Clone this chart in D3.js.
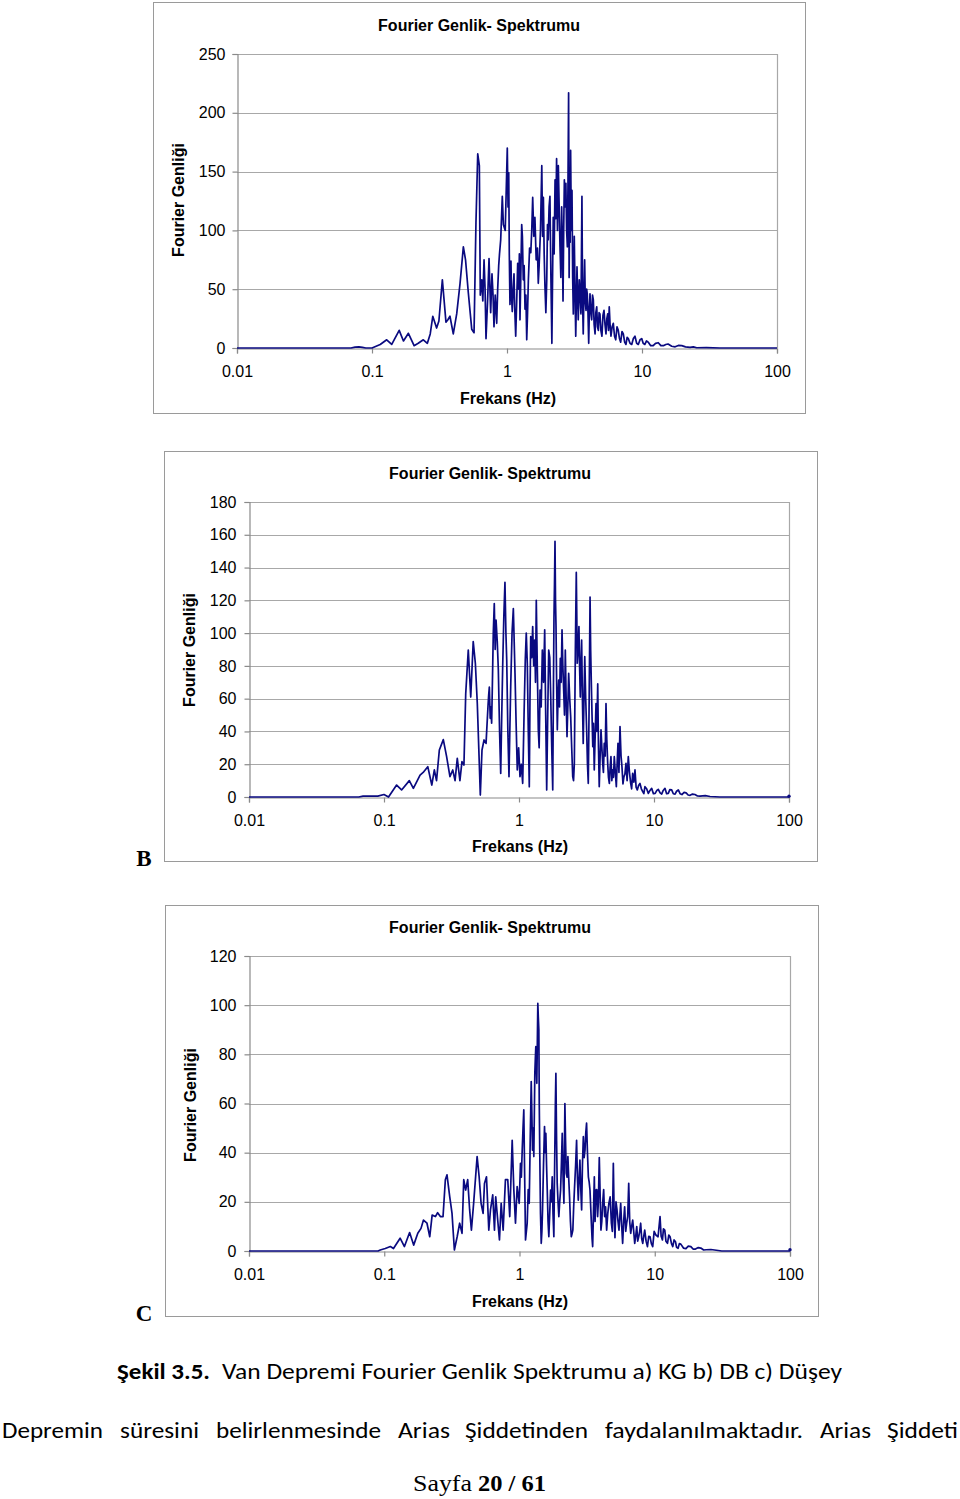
<!DOCTYPE html>
<html><head><meta charset="utf-8">
<script src="https://cdn.jsdelivr.net/npm/d3@7"></script>
<style>body{margin:0;background:#fff}svg{display:block}</style>
</head><body>
<svg id="c" width="960" height="1499"></svg>
<script>
// ---------- data ----------
const xTickValues = [0.01, 0.1, 1, 10, 100];
const xTickLabels = ["0.01", "0.1", "1", "10", "100"];
const yTicksA = [0, 50, 100, 150, 200, 250];
const yTicksB = [0, 20, 40, 60, 80, 100, 120, 140, 160, 180];
const yTicksC = [0, 20, 40, 60, 80, 100, 120];
const chartTitle = "Fourier Genlik- Spektrumu";
const xAxisTitle = "Frekans (Hz)";
const yAxisTitle = "Fourier Genliği";
const panelLetters = ["", "B", "C"];

// a) KG : [frequency Hz, amplitude]
const seriesA = [[0.01,0],[0.07,0],[0.075,0.8],[0.08,1],[0.085,0.6],[0.09,0],[0.1,0],[0.115,3],[0.1285,7],[0.14,3],[0.159,15],[0.171,6],[0.186,12.5],[0.205,2],[0.22,4],[0.24,7],[0.257,4],[0.27,12],[0.282,27],[0.301,17],[0.313,23],[0.332,58],[0.353,22],[0.365,24],[0.378,27],[0.4,12],[0.424,29],[0.449,55],[0.475,86],[0.493,75],[0.517,47],[0.548,16],[0.57,13],[0.589,107],[0.607,165],[0.624,155],[0.634,45],[0.65,58],[0.662,40],[0.676,75],[0.688,50],[0.699,8],[0.718,40],[0.736,76],[0.757,30],[0.774,63],[0.788,45],[0.801,18],[0.818,45],[0.839,21],[0.853,50],[0.868,70],[0.88,80],[0.898,92],[0.923,129],[0.94,105],[0.97,100],[0.985,130],[1.005,170],[1.018,120],[1.03,149],[1.04,80],[1.052,37],[1.06,55],[1.07,74],[1.08,45],[1.094,31],[1.11,50],[1.127,63],[1.14,35],[1.16,10],[1.18,40],[1.2,72],[1.22,50],[1.235,80],[1.248,24],[1.265,60],[1.285,105],[1.3,95],[1.32,58],[1.34,70],[1.36,33],[1.38,45],[1.4,7],[1.42,30],[1.44,58],[1.47,85],[1.5,81],[1.525,100],[1.55,128],[1.58,95],[1.61,111],[1.645,75],[1.68,85],[1.705,55],[1.73,70],[1.77,100],[1.81,155],[1.835,95],[1.86,128],[1.885,80],[1.91,53],[1.94,30],[1.97,58],[1.995,105],[2.02,92],[2.05,120],[2.08,129],[2.115,60],[2.15,4],[2.175,60],[2.2,111],[2.235,80],[2.27,143],[2.3,110],[2.33,161],[2.365,100],[2.4,155],[2.435,120],[2.47,86],[2.505,60],[2.54,120],[2.57,90],[2.6,40],[2.63,100],[2.66,143],[2.695,120],[2.73,140],[2.765,100],[2.8,86],[2.83,140],[2.86,217],[2.885,60],[2.91,115],[2.935,90],[2.96,168],[2.995,100],[3.03,134],[3.065,60],[3.1,29],[3.125,60],[3.15,95],[3.19,50],[3.23,10],[3.265,40],[3.3,69],[3.335,45],[3.37,24],[3.4,40],[3.43,58],[3.48,45],[3.53,29],[3.59,129],[3.63,40],[3.67,12],[3.72,50],[3.76,75],[3.8,40],[3.85,32],[3.89,50],[3.93,46],[3.98,30],[4.03,4],[4.08,35],[4.12,46],[4.18,30],[4.24,24],[4.3,45],[4.36,41],[4.42,20],[4.49,12],[4.55,30],[4.62,35],[4.68,18],[4.75,15],[4.81,30],[4.88,29],[4.96,15],[5.05,10],[5.14,28],[5.23,32],[5.32,20],[5.41,12],[5.49,25],[5.57,29],[5.65,15],[5.72,35],[5.8,20],[5.89,10],[6.01,18],[6.13,21],[6.26,10],[6.39,7],[6.53,18],[6.67,15],[6.81,8],[6.95,5],[7.11,14],[7.27,12],[7.44,5],[7.61,3],[7.76,9],[7.92,8],[8.15,4],[8.39,3],[8.63,8],[8.87,10],[9.13,4],[9.39,3],[9.67,7],[9.95,8],[10.2,4],[10.5,3],[10.8,6],[11.1,5],[11.6,2],[12.1,2],[12.6,4],[13.2,4.5],[13.8,2],[14.4,2],[15,3],[15.6,3.4],[16.6,1.5],[17.6,1],[18.6,2.2],[19.7,2],[21,1],[22.7,0.5],[24,1],[25.4,0.2],[30,0.3],[37.8,0],[100,0]];

// b) DB
const seriesB = [[0.01,0],[0.065,0],[0.07,0.5],[0.09,0.5],[0.1,1.5],[0.108,0],[0.124,7.3],[0.135,4.3],[0.154,10],[0.165,5.3],[0.185,13.4],[0.195,15],[0.211,18.5],[0.226,7.3],[0.236,16.5],[0.245,10],[0.257,28.7],[0.275,35],[0.291,24.6],[0.308,12.4],[0.323,16.5],[0.336,10],[0.349,23.6],[0.365,10],[0.378,21.6],[0.391,19.5],[0.403,63],[0.421,89.7],[0.439,61],[0.458,94.8],[0.475,81.6],[0.491,57],[0.508,20.5],[0.517,1.2],[0.532,28.7],[0.551,34.8],[0.57,32.7],[0.589,55],[0.596,62],[0.603,67],[0.612,48],[0.62,55],[0.627,45],[0.634,65.3],[0.645,100],[0.656,118],[0.666,90],[0.676,108],[0.69,95],[0.703,77.5],[0.718,40],[0.732,14.4],[0.745,50],[0.757,79.5],[0.772,110],[0.787,131],[0.8,100],[0.811,83.6],[0.827,40],[0.843,12.4],[0.855,40],[0.868,67.3],[0.888,100],[0.908,115],[0.921,95],[0.934,75.5],[0.952,45],[0.971,16.5],[0.994,30],[1.017,12.4],[1.04,20],[1.065,8.3],[1.09,50],[1.113,83.6],[1.132,100],[1.152,81.6],[1.172,40],[1.192,6.3],[1.206,60],[1.221,97.8],[1.242,85],[1.263,104],[1.285,80],[1.307,95.8],[1.325,70],[1.343,120],[1.366,80],[1.39,41],[1.41,30],[1.432,65.3],[1.46,55],[1.489,89.7],[1.52,70],[1.55,102],[1.577,50],[1.604,4.3],[1.632,50],[1.66,89.7],[1.69,85],[1.718,61],[1.748,30],[1.778,4.3],[1.797,60],[1.816,110],[1.832,130],[1.848,156],[1.864,120],[1.88,104],[1.9,70],[1.922,41],[1.945,60],[1.968,71.4],[1.995,55],[2.023,84.6],[2.053,70],[2.083,102],[2.113,80],[2.143,65],[2.173,50],[2.203,89.7],[2.235,60],[2.268,36.8],[2.3,55],[2.333,75.5],[2.375,60],[2.415,49],[2.457,30],[2.5,12.4],[2.535,10],[2.57,20.5],[2.615,90],[2.657,137],[2.68,110],[2.7,81.6],[2.74,90],[2.78,104],[2.81,80],[2.845,61],[2.875,80],[2.91,95.8],[2.95,60],[2.99,32.7],[3.03,60],[3.07,85.6],[3.12,60],[3.17,41],[3.215,20],[3.26,8.3],[3.31,60],[3.36,122],[3.395,90],[3.43,71.4],[3.475,50],[3.52,30.7],[3.56,45],[3.61,16.5],[3.66,35],[3.72,57],[3.77,40],[3.83,69],[3.88,30],[3.93,6.3],[3.99,25],[4.05,41],[4.11,30],[4.17,20.5],[4.22,15],[4.28,32.7],[4.35,25],[4.41,57],[4.47,35],[4.54,20.5],[4.6,12],[4.67,8.3],[4.73,18],[4.8,24.6],[4.87,10],[4.94,16.5],[5.01,12],[5.08,24.6],[5.17,15],[5.26,6.3],[5.33,20],[5.41,32.7],[5.5,15],[5.6,43],[5.7,25],[5.79,18.5],[5.89,8],[5.99,12.4],[6.09,14],[6.2,20.5],[6.32,10],[6.45,24.6],[6.58,15],[6.72,8.3],[6.83,5],[6.95,14.4],[7.09,9],[7.23,16.5],[7.37,6],[7.52,4.3],[7.69,7],[7.87,8.3],[8.06,5],[8.25,3.3],[8.41,2],[8.57,6.3],[8.82,5],[9.08,2.2],[9.34,4],[9.61,5.3],[9.9,2],[10.2,2.2],[10.5,4],[10.76,4.7],[11.1,2.5],[11.4,1.8],[11.7,4],[12.06,5.3],[12.4,2],[12.76,2.2],[13.1,4.5],[13.52,4.3],[13.9,2],[14.32,1.8],[14.7,3.5],[15.14,4.3],[15.6,2],[16.1,1.5],[16.7,2.8],[17.3,2.5],[17.9,1.2],[18.5,1],[19.3,1.8],[20.1,1.5],[21,0.6],[21.9,0.5],[24,0.8],[26,0.3],[30.8,0],[99,0],[100,0.5]];

// c) Düşey
const seriesC = [[0.01,0],[0.09,0],[0.0934,0.4],[0.1017,1],[0.111,1.8],[0.117,1],[0.131,5.2],[0.141,1.8],[0.154,7.5],[0.165,2.4],[0.177,7.2],[0.187,9.2],[0.195,12.6],[0.207,11.3],[0.217,5.8],[0.226,14.6],[0.239,14],[0.248,15.6],[0.26,14],[0.272,14],[0.283,29],[0.291,31],[0.305,22],[0.317,15.3],[0.33,0.4],[0.346,5.8],[0.361,11.3],[0.376,7.2],[0.387,29],[0.4,24.8],[0.414,29],[0.428,16.7],[0.441,8.5],[0.458,19.4],[0.486,38.4],[0.503,30.2],[0.52,19.4],[0.538,15.3],[0.551,27.5],[0.57,30.2],[0.593,8.5],[0.61,16.7],[0.634,22.8],[0.653,8.5],[0.667,22],[0.69,12.6],[0.711,4.5],[0.732,19.4],[0.757,8.5],[0.787,29],[0.819,29],[0.847,14],[0.883,45],[0.908,24.8],[0.934,11.3],[0.961,26.2],[0.995,19.4],[1.017,35.7],[1.032,30],[1.047,41],[1.062,50],[1.076,57.4],[1.092,30],[1.108,4.5],[1.124,8],[1.14,11.3],[1.16,25],[1.18,19.4],[1.2,45],[1.221,68.9],[1.235,55],[1.248,41],[1.262,50],[1.276,38.4],[1.287,55],[1.298,72.3],[1.309,78],[1.32,83.1],[1.332,75],[1.343,68.2],[1.355,85],[1.366,100.7],[1.378,95],[1.39,90],[1.4,60],[1.413,38.4],[1.43,15],[1.448,3.1],[1.464,8],[1.48,16.7],[1.505,35],[1.531,50.6],[1.548,40],[1.566,47.9],[1.585,35],[1.604,24.8],[1.626,12],[1.648,5.8],[1.672,15],[1.697,24.8],[1.72,20],[1.746,30.2],[1.77,15],[1.795,5.8],[1.81,25],[1.826,42.4],[1.842,60],[1.858,72.3],[1.88,45],[1.9,27.5],[1.927,20],[1.954,14],[1.983,20],[2.013,24.8],[2.04,35],[2.07,47.9],[2.1,30],[2.13,19.4],[2.148,40],[2.166,60],[2.19,45],[2.218,31.6],[2.25,30],[2.28,38.4],[2.31,30],[2.345,22],[2.38,12],[2.415,5.8],[2.447,7],[2.48,8.5],[2.515,18],[2.554,26.2],[2.6,35],[2.643,45],[2.68,30],[2.72,20.7],[2.76,30],[2.797,37],[2.84,25],[2.88,16.7],[2.92,35],[2.965,46.5],[3.005,38],[3.05,41],[3.09,48],[3.133,52],[3.18,40],[3.23,30.2],[3.275,28],[3.32,24.8],[3.36,18],[3.4,11.3],[3.44,5],[3.475,1.8],[3.52,15],[3.575,30.2],[3.62,12],[3.675,24.8],[3.73,25],[3.78,14],[3.83,20],[3.89,38],[3.95,22],[4.0,8.5],[4.06,12],[4.12,19.4],[4.19,25],[4.26,14],[4.33,18],[4.41,8.5],[4.49,15],[4.58,19.4],[4.68,22],[4.78,11.3],[4.86,8],[4.94,35.7],[5.01,15],[5.08,5.4],[5.17,20],[5.26,16.7],[5.35,12],[5.44,8.5],[5.52,14],[5.6,19.4],[5.7,10],[5.79,3.1],[5.89,12],[5.99,18],[6.1,8],[6.2,11.3],[6.31,14],[6.42,27.5],[6.53,12],[6.64,7.2],[6.75,10],[6.87,12.6],[6.99,8],[7.11,3.1],[7.23,6],[7.36,9.9],[7.48,4],[7.61,5.8],[7.74,8],[7.87,11.3],[8.01,5],[8.15,3.1],[8.29,6],[8.43,8.5],[8.63,4],[8.83,1.8],[9.03,6],[9.23,5.8],[9.44,3],[9.66,1.8],[9.9,8],[10.2,6.5],[10.58,5.8],[10.94,14],[11.15,6],[11.4,4.5],[11.6,9],[11.86,8.5],[12.1,4],[12.42,3.1],[12.7,6.5],[12.98,5.8],[13.3,3],[13.59,1.8],[13.9,4.5],[14.23,3.8],[14.5,1.5],[14.88,1.1],[15.2,3],[15.58,2.8],[16.3,1.2],[17,1],[17.7,2],[18.5,1.8],[19.2,0.8],[20,0.8],[21,1.4],[21.9,1.2],[23,0.4],[24,0.5],[26,0.6],[31.3,0],[99,0],[100,0.5]];

// ---------- layout ----------
const panels = [
  {data: seriesA, yTicks: yTicksA, box: [153.5, 2.5, 652, 411], l: 237, r: 777, t: 54, b: 348,
   titleX: 479, titleY: 25, xTitleX: 508, xTitleY: 398, yTitleX: 178, yTitleY: 200, yPad: 7, letterX: 144, letterY: 0},
  {data: seriesB, yTicks: yTicksB, box: [164.5, 451.5, 653, 410], l: 249, r: 789, t: 502, b: 797,
   titleX: 490, titleY: 473, xTitleX: 520, xTitleY: 846, yTitleX: 189, yTitleY: 650, yPad: 8, letterX: 144, letterY: 858},
  {data: seriesC, yTicks: yTicksC, box: [165.5, 905.5, 653, 411], l: 249, r: 790, t: 956, b: 1251,
   titleX: 490, titleY: 927, xTitleX: 520, xTitleY: 1301, yTitleX: 190, yTitleY: 1105, yPad: 8, letterX: 144, letterY: 1313}
];

const svg = d3.select("#c");
const FONT = "'Liberation Sans', Arial, sans-serif";
const GRID = "#a8a8a8";
const LINE = "#0a0a80";

panels.forEach((p, pi) => {
  const g = svg.append("g");
  g.append("rect").attr("x", p.box[0]).attr("y", p.box[1]).attr("width", p.box[2]).attr("height", p.box[3])
    .attr("fill", "#fff").attr("stroke", "#9a9a9a").attr("stroke-width", 1);

  const x = d3.scaleLog().domain([0.01, 100]).range([p.l, p.r]);
  const yMax = p.yTicks[p.yTicks.length - 1];
  const y = d3.scaleLinear().domain([0, yMax]).range([p.b, p.t]);

  g.append("g").selectAll("line").data(p.yTicks.filter(d => d > 0)).join("line")
    .attr("x1", p.l).attr("x2", p.r).attr("y1", d => Math.round(y(d)) + 0.5).attr("y2", d => Math.round(y(d)) + 0.5)
    .attr("stroke", GRID).attr("stroke-width", 1.2);
  g.append("line").attr("x1", p.r + 0.5).attr("x2", p.r + 0.5).attr("y1", p.t).attr("y2", p.b)
    .attr("stroke", GRID).attr("stroke-width", 1.2);

  const xAxis = d3.axisBottom(x).tickValues(xTickValues).tickFormat((d, i) => xTickLabels[i]).tickSize(5).tickPadding(12);
  const gx = g.append("g").attr("transform", `translate(0,${p.b + 0.5})`).call(xAxis);
  const yAxis = d3.axisLeft(y).tickValues(p.yTicks).tickSize(5).tickPadding(p.yPad);
  const gy = g.append("g").attr("transform", `translate(${p.l + 0.5},0)`).call(yAxis);
  [gx, gy].forEach(a => {
    a.selectAll("path,line").attr("stroke", "#8a8a8a").attr("stroke-width", 1.2);
    a.selectAll("text").attr("fill", "#000").style("font-family", FONT).style("font-size", "16px");
  });

  g.append("path").datum(p.data)
    .attr("d", d3.line().x(d => x(d[0])).y(d => y(d[1])))
    .attr("fill", "none").attr("stroke", LINE).attr("stroke-width", 1.7).attr("stroke-linejoin", "round");
  if (pi > 0) {
    const last = p.data[p.data.length - 1];
    g.append("circle").attr("cx", x(last[0])).attr("cy", y(last[1])).attr("r", 1.7).attr("fill", LINE);
  }

  g.append("text").attr("x", p.titleX).attr("y", p.titleY).attr("dy", "0.35em").attr("text-anchor", "middle")
    .style("font-family", FONT).style("font-size", "16px").style("font-weight", "bold").text(chartTitle);
  g.append("text").attr("x", p.xTitleX).attr("y", p.xTitleY).attr("dy", "0.35em").attr("text-anchor", "middle")
    .style("font-family", FONT).style("font-size", "16px").style("font-weight", "bold").text(xAxisTitle);
  g.append("text").attr("transform", `translate(${p.yTitleX},${p.yTitleY}) rotate(-90)`).attr("dy", "0.35em")
    .attr("text-anchor", "middle")
    .style("font-family", FONT).style("font-size", "16px").style("font-weight", "bold").text(yAxisTitle);

  if (panelLetters[pi]) {
    svg.append("text").attr("x", p.letterX).attr("y", p.letterY).attr("dy", "0.35em").attr("text-anchor", "middle")
      .style("font-family", "'Liberation Serif', 'Times New Roman', serif").style("font-size", "23px")
      .style("font-weight", "bold").text(panelLetters[pi]);
  }
});

// ---------- caption & body text ----------
const CAL = "Carlito, 'Open Sans', 'Liberation Sans', sans-serif";
svg.append("text").attr("x", 117).attr("y", 1379).attr("textLength", 93).attr("lengthAdjust", "spacingAndGlyphs")
  .style("font-family", CAL).style("font-size", "23px").style("font-weight", "bold").text("Şekil 3.5.");
svg.append("text").attr("x", 222).attr("y", 1379).attr("textLength", 620).attr("lengthAdjust", "spacingAndGlyphs")
  .style("font-family", CAL).style("font-size", "23px").text("Van Depremi Fourier Genlik Spektrumu a) KG b) DB c) Düşey");

const bodyWords = ["Depremin", "süresini", "belirlenmesinde", "Arias", "Şiddetinden", "faydalanılmaktadır.", "Arias", "Şiddeti"];
const bodyStarts = [2, 120, 216, 398, 465, 605, 820, 887];
const bodyEnds = [103, 199, 381, 450, 588, 803, 871, 958];
bodyWords.forEach((w, i) => {
  svg.append("text").attr("x", bodyStarts[i]).attr("y", 1438)
    .attr("textLength", bodyEnds[i] - bodyStarts[i]).attr("lengthAdjust", "spacingAndGlyphs")
    .style("font-family", CAL).style("font-size", "23px").text(w);
});

svg.append("text").attr("x", 413).attr("y", 1491).attr("textLength", 59).attr("lengthAdjust", "spacingAndGlyphs")
  .style("font-family", "'Liberation Serif', serif").style("font-size", "24px").text("Sayfa");
svg.append("text").attr("x", 478).attr("y", 1491).attr("textLength", 68).attr("lengthAdjust", "spacingAndGlyphs")
  .style("font-family", "'Liberation Serif', serif").style("font-size", "24px").style("font-weight", "bold").text("20 / 61");
</script>
</body></html>
